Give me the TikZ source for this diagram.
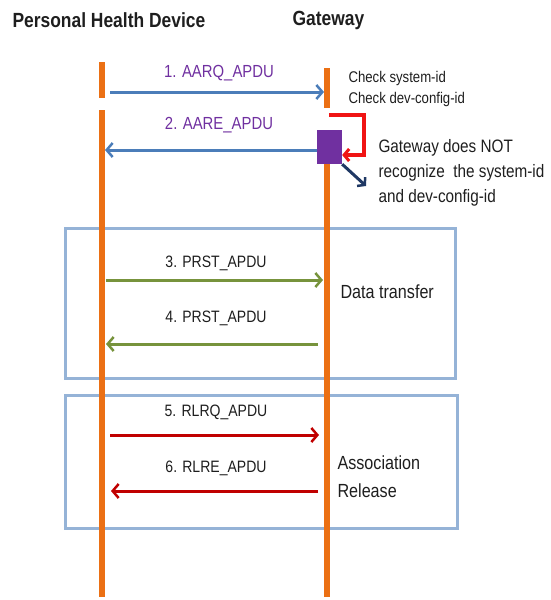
\documentclass[tikz,border=0pt]{standalone}
\usepackage{fontspec}
\setmainfont{Liberation Sans}[FakeStretch=0.85]
\usetikzlibrary{arrows.meta}

\definecolor{lifeorange}{RGB}{235,112,20}
\definecolor{assocblue}{RGB}{75,125,185}
\definecolor{apdupurple}{RGB}{112,48,160}
\definecolor{checkred}{RGB}{240,20,20}
\definecolor{navy}{RGB}{31,56,100}
\definecolor{xfergreen}{RGB}{119,147,60}
\definecolor{relred}{RGB}{192,0,0}
\definecolor{phaseblue}{RGB}{149,179,215}
\definecolor{txt}{RGB}{30,30,30}

\begin{document}
\begin{tikzpicture}[x=1pt,y=-1pt,
  lifeline/.style={draw=lifeorange,line width=6pt},
  msg/.style={line width=3pt,-{Straight Barb[length=6pt,width=14pt,line width=2.5pt]}},
  apdu/.style={font=\fontsize{16.5}{18}\selectfont,text=txt},
  phase/.style={draw=phaseblue,line width=3pt,minimum width=390pt,inner sep=0pt},
  note/.style={anchor=west,align=left,text=txt}]

\useasboundingbox (0,0) rectangle (550,600);

\node[anchor=west,font=\bfseries\fontsize{20.5}{24}\selectfont,text=txt] (phd) at (9,20) {Personal Health Device};
\node[anchor=west,font=\bfseries\fontsize{20.5}{24}\selectfont,text=txt] (gw) at (289,20) {Gateway};

% phases
\node[phase,minimum height=150pt] (transfer) at (260,303) {};
\node[phase,minimum width=392pt,minimum height=133pt] (release) at (261,461.5) {};

% lifelines
\coordinate (phdA) at (102,62);
\coordinate (phdB) at (102,98);
\coordinate (phdC) at (102,110);
\coordinate (phdD) at (102,597);
\coordinate (gwA) at (327,68);
\coordinate (gwB) at (327,108);
\coordinate (gwC) at (327,160);
\coordinate (gwD) at (327,597);
\draw[lifeline] (phdA) -- (phdB);
\draw[lifeline] (phdC) -- (phdD);
\draw[lifeline] (gwA) -- (gwB);
\draw[lifeline] (gwC) -- (gwD);

\node[fill=apdupurple,minimum width=25pt,minimum height=34pt,inner sep=0pt] (chk) at (329.5,147) {};

% association
\coordinate (m1s) at (110,92);
\coordinate (m1e) at (324,92);
\coordinate (m2e) at (105,150);
\draw[msg,draw=assocblue] (m1s) -- (m1e);
\draw[msg,draw=assocblue] (chk.west |- m2e) -- (m2e);
\node[apdu,text=apdupurple,font=\fontsize{17.5}{20}\selectfont] (l1) at (219,73) {1. AARQ\_APDU};
\node[apdu,text=apdupurple,font=\fontsize{17.5}{20}\selectfont] (l2) at (219,125) {2. AARE\_APDU};

\coordinate (chkin) at (329,115);
\coordinate (chkout) at (366,186);
\draw[checkred,line width=4pt,-{Straight Barb[length=5pt,width=12pt,line width=3pt]}]
  (chkin) -| (364,155) -- (chk.east |- 0,155);
\draw[navy,line width=3pt,-{Straight Barb[length=5pt,width=12pt,line width=2.5pt]}]
  (chk.south east) -- (chkout);

\node[note,font=\fontsize{15.5}{21}\selectfont] (check) at (345,89) {Check system-id\\Check dev-config-id};
\node[note,font=\fontsize{18}{25}\selectfont] (reject) at (375,173) {Gateway does NOT\\recognize\ \ the system-id\\and dev-config-id};

% data transfer
\coordinate (m3s) at (106,280);
\coordinate (m3e) at (323,280);
\coordinate (m4s) at (318,344);
\coordinate (m4e) at (106,344);
\draw[msg,draw=xfergreen] (m3s) -- (m3e);
\draw[msg,draw=xfergreen] (m4s) -- (m4e);
\node[apdu] (l3) at (216,263) {3. PRST\_APDU};
\node[apdu] (l4) at (216,318) {4. PRST\_APDU};
\node[note,font=\fontsize{19}{28}\selectfont] (xfer) at (337,292) {Data transfer};

% release
\coordinate (m5s) at (110,435);
\coordinate (m5e) at (319,435);
\coordinate (m6s) at (318,491);
\coordinate (m6e) at (111,491);
\draw[msg,draw=relred] (m5s) -- (m5e);
\draw[msg,draw=relred] (m6s) -- (m6e);
\node[apdu] (l5) at (216,412) {5. RLRQ\_APDU};
\node[apdu] (l6) at (216,468) {6. RLRE\_APDU};
\node[note,font=\fontsize{19}{28}\selectfont] (assoc) at (334,477) {Association\\Release};

\end{tikzpicture}
\end{document}
